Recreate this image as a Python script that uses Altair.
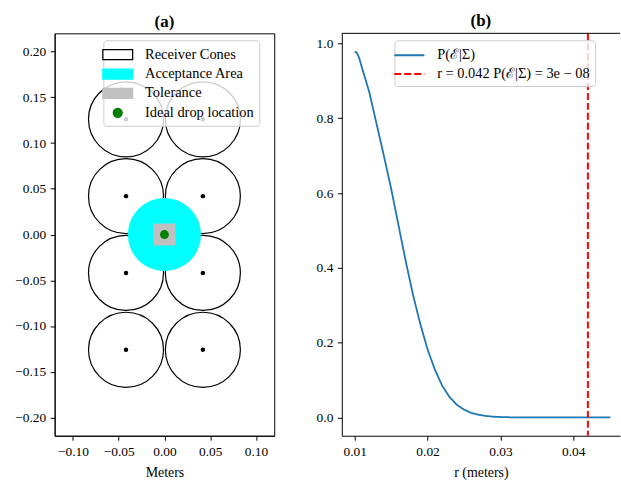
import altair as alt
import pandas as pd

# ---------------- Panel (a) data ----------------
cone_x = [-0.042, 0.042, -0.042, 0.042, -0.042, 0.042, -0.042, 0.042]
cone_y = [0.126, 0.126, 0.042, 0.042, -0.042, -0.042, -0.126, -0.126]
cone_radius = 0.041
accept_x = [0.0]
accept_y = [0.0]
accept_radius = 0.040
tol_x0 = [-0.012]
tol_x1 = [0.012]
tol_y0 = [-0.012]
tol_y1 = [0.012]
ideal_x = [0.0]
ideal_y = [0.0]

legend_labels = ["Receiver Cones", "Acceptance Area", "Tolerance", "Ideal drop location"]
legend_fill = ["white", "#00ffff", "#c0c0c0", "#008000"]
legend_stroke = ["black", "#00ffff", "#c0c0c0", "#008000"]
rect_path = "M-1.73,-0.58H1.73V0.58H-1.73Z"
dot_path = "M-0.52,0A0.52,0.52 0 1,0 0.52,0A0.52,0.52 0 1,0 -0.52,0Z"
legend_shapes = [rect_path, rect_path, rect_path, dot_path]

xa_ticks = [-0.10, -0.05, 0.0, 0.05, 0.10]
ya_ticks = [-0.20, -0.15, -0.10, -0.05, 0.0, 0.05, 0.10, 0.15, 0.20]
xa_domain = [-0.12, 0.12]
ya_domain = [-0.22, 0.22]

# ---------------- Panel (b) data ----------------
r_vals = [0.0100, 0.0103, 0.0106, 0.0110, 0.0120, 0.0130, 0.0140, 0.0150, 0.0160,
          0.0170, 0.0180, 0.0190, 0.0200, 0.0210, 0.0220, 0.0230, 0.0240, 0.0250,
          0.0260, 0.0270, 0.0280, 0.0290, 0.0300, 0.0320, 0.0340, 0.0360, 0.0380,
          0.0400, 0.0420, 0.0440, 0.0451]
p_vals = [0.978, 0.975, 0.962, 0.935, 0.870, 0.785, 0.700, 0.612, 0.515,
          0.418, 0.328, 0.250, 0.182, 0.128, 0.085, 0.055, 0.034, 0.021,
          0.012, 0.007, 0.004, 0.002, 0.001, 0.0, 0.0, 0.0, 0.0,
          0.0, 0.0, 0.0, 0.0]
r_thresh = [0.042]
series_labels = ["P(ℰ|Σ)", "r = 0.042 P(ℰ|Σ) = 3e − 08"]
series_colors = ["#1f77b4", "#ff0000"]
series_dash = [[1, 0], [7, 3]]
xb_ticks = [0.01, 0.02, 0.03, 0.04]
yb_ticks = [0.0, 0.2, 0.4, 0.6, 0.8, 1.0]
xb_domain = [0.00823, 0.04641]
yb_domain = [-0.049, 1.027]

# ---------------- layout / style ----------------
FONT = "Liberation Serif"
WA, HA = 221, 405
WB, HB = 280, 405
px_per_unit = WA / (xa_domain[1] - xa_domain[0])

def axis(values, fmt):
    return alt.Axis(values=values, format=fmt, grid=False, tickSize=4.5,
                    tickColor="black", domainColor="black", labelColor="black",
                    labelFont=FONT, labelFontSize=13.5, labelPadding=4.5,
                    titleFont=FONT, titleFontSize=14,
                    titleFontWeight="normal", titleColor="black", titlePadding=8)

def XA(field):
    return alt.X(field, type="quantitative", title="Meters",
                 scale=alt.Scale(domain=xa_domain, nice=False, zero=False),
                 axis=axis(xa_ticks, ".2f"))

def YA(field):
    return alt.Y(field, type="quantitative", title=None,
                 scale=alt.Scale(domain=ya_domain, nice=False, zero=False),
                 axis=axis(ya_ticks, ".2f"))

cones_df = pd.DataFrame({"x": cone_x, "y": cone_y})
accept_df = pd.DataFrame({"x": accept_x, "y": accept_y})
tol_df = pd.DataFrame({"x": tol_x0, "x2": tol_x1, "y": tol_y0, "y2": tol_y1})
ideal_df = pd.DataFrame({"x": ideal_x, "y": ideal_y})
leg_df = pd.DataFrame({"label": legend_labels})

cone_size = (2 * cone_radius * px_per_unit) ** 2
accept_size = (2 * accept_radius * px_per_unit) ** 2

cones = alt.Chart(cones_df).mark_point(shape="circle", filled=False, color="black",
                                       strokeWidth=1.2, size=cone_size, opacity=1).encode(
    x=XA("x"), y=YA("y"))
centers = alt.Chart(cones_df).mark_point(shape="circle", filled=True, color="black",
                                         size=20, opacity=1).encode(x=XA("x"), y=YA("y"))
accept = alt.Chart(accept_df).mark_point(shape="circle", filled=True, color="#00ffff",
                                         size=accept_size, opacity=1).encode(x=XA("x"), y=YA("y"))
tol = alt.Chart(tol_df).mark_rect(color="#c0c0c0").encode(
    x=XA("x"), x2="x2", y=YA("y"), y2="y2")
ideal = alt.Chart(ideal_df).mark_point(shape="circle", filled=True, color="#008000",
                                       size=80, opacity=1).encode(x=XA("x"), y=YA("y"))

leg_a = alt.Legend(title=None, orient="none", legendX=49, legendY=7,
                   fillColor="rgba(255,255,255,0.8)", strokeColor="#cccccc",
                   cornerRadius=3, padding=5, symbolSize=300, symbolOpacity=1,
                   symbolStrokeWidth=1.3, labelOffset=18, rowPadding=1.5,
                   labelFont=FONT, labelFontSize=14.5, labelColor="black", zindex=2)
legend_layer = alt.Chart(leg_df).mark_point(filled=True, opacity=0).encode(
    fill=alt.Fill("label:N", scale=alt.Scale(domain=legend_labels, range=legend_fill), legend=leg_a),
    stroke=alt.Stroke("label:N", scale=alt.Scale(domain=legend_labels, range=legend_stroke), legend=leg_a),
    shape=alt.Shape("label:N", scale=alt.Scale(domain=legend_labels, range=legend_shapes), legend=leg_a),
)

panel_a = alt.layer(cones, centers, accept, tol, ideal, legend_layer).properties(
    width=WA, height=HA, title=alt.Title("(a)"))

# ---------------- Panel (b) ----------------
line_df = pd.DataFrame({"r": r_vals, "p": p_vals, "series": series_labels[0]})
thr_df = pd.DataFrame({"r": r_thresh, "series": series_labels[1]})

def XB():
    return alt.X("r", type="quantitative", title="r (meters)",
                 scale=alt.Scale(domain=xb_domain, nice=False, zero=False),
                 axis=axis(xb_ticks, ".2f"))

def YB():
    return alt.Y("p", type="quantitative", title=None,
                 scale=alt.Scale(domain=yb_domain, nice=False, zero=False),
                 axis=axis(yb_ticks, ".1f"))

leg_b = alt.Legend(title=None, orient="none", legendX=53, legendY=7,
                   fillColor="rgba(255,255,255,0.8)", strokeColor="#cccccc",
                   cornerRadius=3, padding=5, symbolSize=300, symbolType="M-1.75,0H1.75",
                   symbolStrokeWidth=2, labelOffset=18, rowPadding=2,
                   labelFont=FONT, labelFontSize=14.5, labelColor="black", zindex=2)

stroke_b = alt.Stroke("series:N", scale=alt.Scale(domain=series_labels, range=series_colors), legend=leg_b)
dash_b = alt.StrokeDash("series:N", scale=alt.Scale(domain=series_labels, range=series_dash), legend=leg_b)

line = alt.Chart(line_df).mark_line(strokeWidth=1.8, clip=True).encode(
    x=XB(), y=YB(), stroke=stroke_b, strokeDash=dash_b)
thr = alt.Chart(thr_df).mark_rule(strokeWidth=2).encode(
    x=XB(), stroke=stroke_b, strokeDash=dash_b)
top_border = alt.Chart(pd.DataFrame({"k": [0]})).mark_rule(color="black", strokeWidth=1).encode(
    x=alt.value(0), x2=alt.value(WB), y=alt.value(0))

panel_b = alt.layer(line, thr, top_border).properties(
    width=WB, height=HB, title=alt.Title("(b)"),
    view=alt.ViewBackground(stroke="transparent"))

chart = alt.hconcat(panel_a, panel_b, spacing=40).resolve_scale(
    stroke="independent", fill="independent", shape="independent", strokeDash="independent"
).resolve_legend(
    stroke="independent", fill="independent", shape="independent", strokeDash="independent"
).properties(
    padding={"left": 14, "top": 10, "right": 0, "bottom": 0},
    background="white",
).configure_view(stroke="black", strokeWidth=1).configure_title(
    font=FONT, fontSize=17, fontWeight="bold", color="black", anchor="middle", offset=2
)

chart.save("out.html", embed_options={"renderer": "svg", "actions": False})
